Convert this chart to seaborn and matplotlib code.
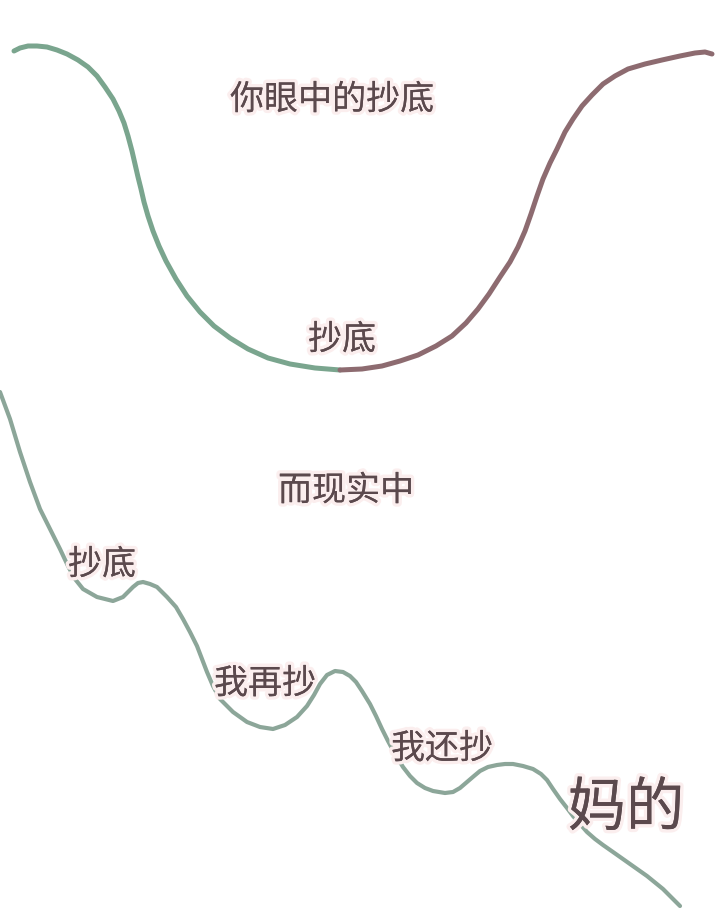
import numpy as np
import pandas as pd
import matplotlib
matplotlib.use("Agg")
import matplotlib.pyplot as plt
import matplotlib.patheffects as pe
import seaborn as sns

# ---- data (in picture units: x right, y down) ----
ideal_fall_x = [14, 20, 28, 37, 47, 57, 67, 78, 88, 97, 105, 113, 119, 124, 128, 132, 135,
                138, 141, 144, 148, 153, 159, 166, 176, 187, 200, 214, 230, 248, 268, 290,
                315, 340]
ideal_fall_y = [52, 49, 47, 47, 48, 51, 55, 61, 68, 77, 88, 100, 112, 124, 137, 152, 165,
                178, 190, 203, 217, 232, 247, 262, 280, 297, 313, 327, 339, 350, 359, 365,
                369, 371]

ideal_rise_x = [340, 362, 382, 400, 418, 436, 452, 466, 478, 489, 500, 510, 518, 525, 531,
                537, 543, 550, 557, 565, 573, 582, 592, 603, 615, 628, 645, 662, 680, 695,
                705, 712]
ideal_rise_y = [371, 370, 367, 362, 356, 347, 337, 324, 310, 295, 278, 263, 248, 232, 215,
                197, 180, 164, 150, 133, 120, 107, 96, 85, 77, 70, 65, 61, 57, 54, 53, 55]

real_x = [0, 10, 20, 30, 40, 50, 60, 68, 75, 83, 97, 113, 123, 128, 133, 138, 143, 150, 157,
          167, 176, 183, 190, 197, 202, 207, 213, 220, 233, 247, 260, 273, 285, 297, 307,
          314, 320, 327, 335, 343, 350, 356, 362, 370, 376, 382, 388, 395, 403, 410, 417,
          425, 433, 445, 453, 460, 467, 474, 480, 488, 497, 505, 513, 523, 533, 541, 547,
          553, 560, 567, 573, 580, 587, 595, 603, 613, 630, 647, 663, 680]
real_y = [393, 420, 453, 483, 510, 530, 550, 567, 580, 590, 598, 602, 598, 593, 588, 584,
          583, 585, 588, 598, 608, 620, 633, 647, 660, 673, 687, 700, 713, 723, 728, 730,
          726, 718, 707, 696, 685, 676, 672, 673, 677, 683, 692, 705, 717, 730, 742, 755,
          768, 777, 784, 789, 792, 794, 793, 789, 783, 777, 772, 768, 766, 765, 765, 767,
          770, 775, 781, 790, 800, 809, 817, 825, 833, 840, 846, 853, 865, 877, 890, 907]

labels = ["你眼中的抄底", "抄底", "而现实中", "抄底", "我再抄", "我还抄", "妈的"]
label_x = [332, 342, 346, 102, 265, 442, 626]
label_y = [101, 341, 492, 566, 685, 750, 810]
label_big = [False, False, False, False, False, False, True]

# ---- build table ----
df = pd.concat([
    pd.DataFrame({"x": ideal_fall_x, "y": ideal_fall_y, "seg": "ideal_fall"}),
    pd.DataFrame({"x": ideal_rise_x, "y": ideal_rise_y, "seg": "ideal_rise"}),
    pd.DataFrame({"x": real_x, "y": real_y, "seg": "real"}),
], ignore_index=True)

sns.set_theme(style="white")
plt.rcParams["font.family"] = ["Noto Sans CJK SC", "DejaVu Sans"]

fig = plt.figure(figsize=(7.2, 9.12), dpi=100)
fig.patch.set_facecolor("white")
ax = fig.add_axes([0, 0, 1, 1])

palette = {"ideal_fall": "#7aa58e", "ideal_rise": "#8d6b70", "real": "#8ca699"}
widths = {"ideal_fall": 3.6, "ideal_rise": 3.6, "real": 3.0}
for seg, sub in df.groupby("seg", sort=False):
    sns.lineplot(data=sub, x="x", y="y", sort=False, estimator=None, ax=ax,
                 color=palette[seg], linewidth=widths[seg], legend=False,
                 solid_capstyle="round", solid_joinstyle="round")

for t, x, y, big in zip(labels, label_x, label_y, label_big):
    ax.text(x, y, t, ha="center", va="center",
            fontsize=42 if big else 24.5, color="#5b494d",
            path_effects=[pe.withStroke(linewidth=5, foreground="#fbeeee"),
                          pe.Normal()])

ax.set_xlim(0, 720)
ax.set_ylim(912, 0)
ax.set_axis_off()
fig.savefig("out.png", dpi=100, facecolor="white")
